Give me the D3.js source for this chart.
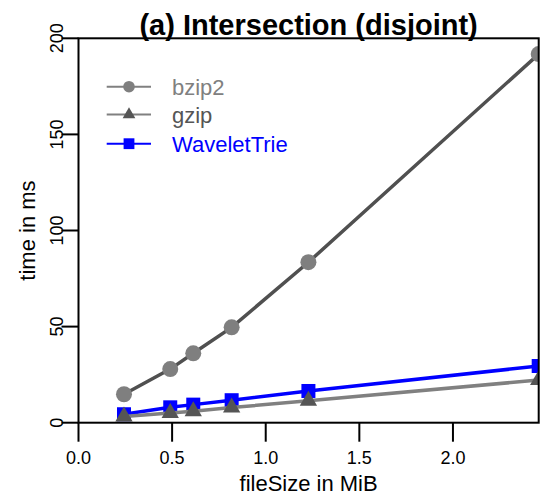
<!DOCTYPE html>
<html>
<head>
<meta charset="utf-8">
<script src="https://cdn.jsdelivr.net/npm/d3@7"></script>
<style>
  body { margin: 0; background: #fff; }
  text { font-family: "Liberation Sans", Arial, Helvetica, sans-serif; }
</style>
</head>
<body>
<div id="chart"></div>
<script>
// data
var fileSize = [0.243, 0.49, 0.613, 0.818, 1.228, 2.458];
var bzip2 = [14.8, 27.9, 36.1, 49.6, 83.5, 191.8];
var gzip = [3.2, 5.0, 6.0, 7.9, 11.4, 22.2];
var waveletTrie = [4.4, 8.0, 9.4, 11.7, 16.5, 29.5];
var xTicks = [0, 0.5, 1.0, 1.5, 2.0];
var yTicks = [0, 50, 100, 150, 200];
var seriesNames = ["bzip2", "gzip", "WaveletTrie"];

var width = 542,
    height = 497;
// plot box (note: "top" is reserved on window, so use other names)
var pLeft = 78.5, pRight = 538.7, pTop = 38.3, pBottom = 422.7;

var svg = d3.select("#chart")
    .append("svg")
    .attr("width", width)
    .attr("height", height);

var x = d3.scaleLinear().domain([0, d3.max(fileSize)]).range([pLeft, pRight]);
var y = d3.scaleLinear().domain([0, 200]).range([pBottom, pTop]);

svg.append("defs").append("clipPath").attr("id", "plotclip")
    .append("rect")
    .attr("x", pLeft).attr("y", pTop)
    .attr("width", pRight - pLeft).attr("height", pBottom - pTop);

var plot = svg.append("g").attr("clip-path", "url(#plotclip)");

var line = d3.line()
    .x(function(d) { return x(d[0]); })
    .y(function(d) { return y(d[1]); });

function pts(vals) {
    return fileSize.map(function(f, i) { return [f, vals[i]]; });
}

var tri = d3.symbol().type(d3.symbolTriangle);

// WaveletTrie
plot.append("path")
    .attr("d", line(pts(waveletTrie)))
    .attr("fill", "none")
    .attr("stroke", "#0000ff")
    .attr("stroke-width", 3.5);
plot.selectAll("rect.wt")
    .data(pts(waveletTrie))
    .enter()
    .append("rect")
    .attr("x", function(d) { return x(d[0]) - 7; })
    .attr("y", function(d) { return y(d[1]) - 7; })
    .attr("width", 14)
    .attr("height", 14)
    .attr("fill", "#0000ff");

// gzip
plot.append("path")
    .attr("d", line(pts(gzip)))
    .attr("fill", "none")
    .attr("stroke", "#808080")
    .attr("stroke-width", 3.5);
plot.selectAll("path.gz")
    .data(pts(gzip))
    .enter()
    .append("path")
    .attr("d", tri.size(130)())
    .attr("transform", function(d) {
        return "translate(" + x(d[0]) + "," + y(d[1]) + ")";
    })
    .attr("fill", "#555555");

// bzip2
plot.append("path")
    .attr("d", line(pts(bzip2)))
    .attr("fill", "none")
    .attr("stroke", "#505050")
    .attr("stroke-width", 3.5);
plot.selectAll("circle.bz")
    .data(pts(bzip2))
    .enter()
    .append("circle")
    .attr("cx", function(d) { return x(d[0]); })
    .attr("cy", function(d) { return y(d[1]); })
    .attr("r", 8)
    .attr("fill", "#7f7f7f");

// box
svg.append("rect")
    .attr("x", pLeft).attr("y", pTop)
    .attr("width", pRight - pLeft).attr("height", pBottom - pTop)
    .attr("fill", "none")
    .attr("stroke", "#000")
    .attr("stroke-width", 2);

// x axis
var xAxis = svg.append("g");
xAxis.selectAll("line")
    .data(xTicks)
    .enter()
    .append("line")
    .attr("x1", function(d) { return x(d); })
    .attr("x2", function(d) { return x(d); })
    .attr("y1", pBottom)
    .attr("y2", pBottom + 19)
    .attr("stroke", "#000")
    .attr("stroke-width", 2);
xAxis.selectAll("text")
    .data(xTicks)
    .enter()
    .append("text")
    .attr("x", function(d) { return x(d); })
    .attr("y", 464)
    .attr("text-anchor", "middle")
    .attr("font-size", 18)
    .text(function(d) { return d3.format(".1f")(d); });

// y axis
var yAxis = svg.append("g");
yAxis.selectAll("line")
    .data(yTicks)
    .enter()
    .append("line")
    .attr("x1", pLeft - 17)
    .attr("x2", pLeft)
    .attr("y1", function(d) { return y(d); })
    .attr("y2", function(d) { return y(d); })
    .attr("stroke", "#000")
    .attr("stroke-width", 2);
yAxis.selectAll("text")
    .data(yTicks)
    .enter()
    .append("text")
    .attr("transform", function(d) { return "translate(62.5," + y(d) + ") rotate(-90)"; })
    .attr("text-anchor", "middle")
    .attr("font-size", 18)
    .text(function(d) { return d; });

// labels
svg.append("text")
    .attr("x", (pLeft + pRight) / 2)
    .attr("y", 35)
    .attr("text-anchor", "middle")
    .attr("font-size", 29)
    .attr("font-weight", "bold")
    .text("(a) Intersection (disjoint)");

svg.append("text")
    .attr("x", (pLeft + pRight) / 2)
    .attr("y", 491)
    .attr("text-anchor", "middle")
    .attr("font-size", 22)
    .text("fileSize in MiB");

svg.append("text")
    .attr("transform", "translate(35," + (pTop + pBottom) / 2 + ") rotate(-90)")
    .attr("text-anchor", "middle")
    .attr("font-size", 22)
    .text("time in ms");

// legend
var legendY = [86.7, 114.5, 143.7];
var legendText = ["#808080", "#555555", "#0000ff"];
var legendLine = ["#808080", "#808080", "#0000ff"];
var lg = svg.append("g");
seriesNames.forEach(function(name, i) {
    var ly = legendY[i];
    lg.append("line")
        .attr("x1", 106.7).attr("x2", 151)
        .attr("y1", ly).attr("y2", ly)
        .attr("stroke", legendLine[i])
        .attr("stroke-width", 2);
    if (i == 0) {
        lg.append("circle").attr("cx", 129).attr("cy", ly).attr("r", 5.8).attr("fill", "#7f7f7f");
    } else if (i == 1) {
        lg.append("path").attr("d", tri.size(70)())
            .attr("transform", "translate(129," + ly + ")")
            .attr("fill", "#555555");
    } else {
        lg.append("rect").attr("x", 129 - 5.4).attr("y", ly - 5.4)
            .attr("width", 10.8).attr("height", 10.8).attr("fill", "#0000ff");
    }
    lg.append("text")
        .attr("x", 172)
        .attr("y", ly + 8)
        .attr("font-size", 22)
        .attr("fill", legendText[i])
        .text(name);
});
</script>
</body>
</html>
